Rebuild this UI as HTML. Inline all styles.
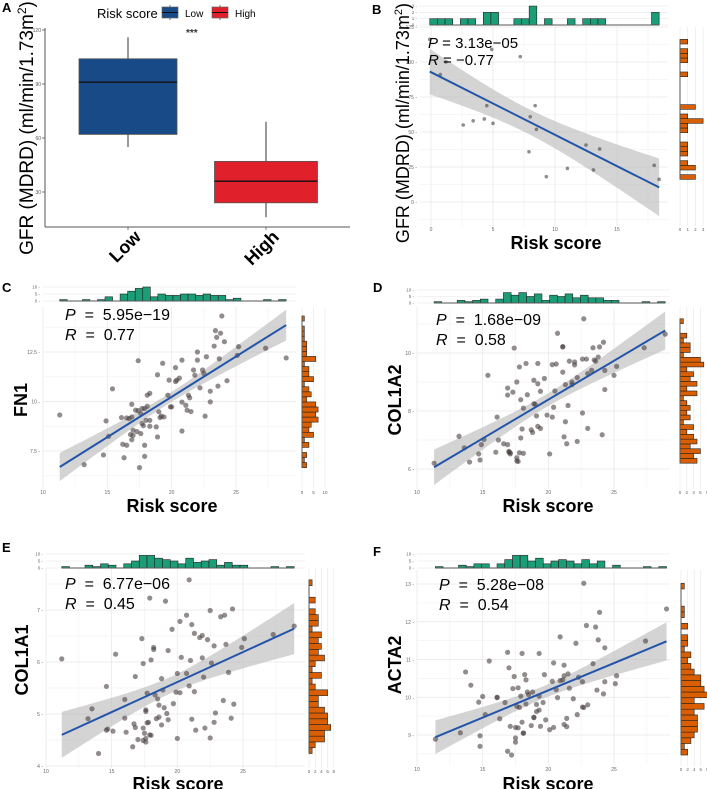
<!DOCTYPE html>
<html><head><meta charset="utf-8">
<style>
html,body{margin:0;padding:0;background:#fff;}
svg{display:block;font-family:"Liberation Sans",sans-serif;}
</style></head>
<body>
<svg id="fig" width="707" height="789" viewBox="0 0 707 789" xmlns="http://www.w3.org/2000/svg"></svg>
<script>
// ---------- Panel A data ----------
const boxGroups = ["Low","High"];
const boxMin = [55,16];
const boxQ1 = [62,24];
const boxMed = [91,36];
const boxQ3 = [104,47];
const boxMax = [116,69];
const boxTicks = [30,60,90,120];

// ---------- Panel B data ----------
const bX = [-0.1,0.75,1.2,2.6,3.4,4.3,4.5,4.9,5.0,7.2,7.9,8.0,8.4,8.5,9.3,11.0,12.5,13.1,13.6,18.0,18.4];
const bY = [116.2,91.0,100,55,58,59.3,68.8,109,56.2,103.8,35.9,60.9,68.8,51.9,18.1,24,40.7,22.9,37.9,26.2,16.2];
const bXTicks = [0,5,10,15];
const bYTicks = [0,25,50,75,100,125];

// ---------- Panel C (FN1) ----------
const cX = [11.3,13.2,14.7,14.9,15.1,15.4,16.1,16.2,16.3,16.5,16.7,16.8,16.9,16.9,17.0,17.0,17.2,17.3,17.4,17.4,17.5,17.6,17.7,17.7,17.8,17.9,17.9,17.9,18.0,18.1,18.3,18.3,18.8,18.9,19.0,19.1,19.2,19.3,19.4,19.7,19.9,20.0,20.3,20.3,20.4,20.6,20.8,20.8,20.8,21.1,21.2,21.3,21.4,21.5,21.8,22.0,22.0,22.2,22.4,22.5,22.7,23.0,23.0,22.6,23.4,23.5,23.3,23.7,23.8,23.9,24.1,24.3,23.6,25.2,25.1,27.3,28.9,21.7,19.8,18.9,18.3,17.6,18.1,16.9,16.5];
const cY = [9.32,6.81,7.30,9.02,8.24,10.64,9.19,7.84,7.16,9.17,9.14,8.33,9.86,8.07,8.29,8.55,9.56,8.48,9.54,12.06,6.66,9.39,8.89,9.65,8.78,7.23,7.79,9.65,9.05,9.76,8.75,10.41,8.72,11.35,9.48,9.19,9.26,11.93,9.22,10.32,9.73,9.73,11.01,11.71,11.08,11.18,8.51,12.09,9.97,9.81,9.56,10.32,10.19,9.49,11.33,12.09,12.5,10.69,11.59,11.42,12.26,10.52,9.98,9.26,13.58,13.24,12.80,12.16,13.45,14.32,13.02,11.05,10.78,12.77,12.33,12.69,12.20,11.59,11.08,8.21,9.05,8.38,10.32,9.22,7.79];

// ---------- Panel D (COL1A2) ----------
const dX = [11.3,13.2,13.6,14.0,14.7,14.8,14.9,15.1,15.4,16.0,16.1,16.2,16.9,17.0,17.0,16.9,16.9,17.1,17.1,17.3,17.4,17.6,17.6,17.6,17.7,17.8,17.8,17.9,18.0,18.1,18.1,17.9,18.3,18.4,18.7,18.8,18.9,19.0,19.1,19.2,19.2,19.2,19.4,19.4,19.7,19.9,20.1,20.3,20.3,20.6,20.5,20.7,21.1,21.1,21.1,21.2,21.3,21.3,21.4,21.5,21.6,21.8,21.8,22.0,22.0,22.2,22.2,22.6,22.6,22.7,22.9,23.0,23.0,23.3,23.4,23.5,23.6,23.8,23.9,24.1,24.2,24.3,24.3,25.0,25.2,27.3,28.9,18.9,20.4,16.6];
const dY = [6.20,7.13,6.73,6.24,6.52,6.31,6.84,7.02,9.23,6.58,7.79,7.00,6.84,6.58,6.61,8.79,8.55,6.52,6.56,8.65,10.17,6.39,6.28,9.00,6.26,9.52,6.56,8.39,7.38,8.10,6.54,7.07,9.64,8.56,7.35,7.26,8.25,8.23,7.83,8.94,9.64,7.47,7.40,8.68,9.12,7.86,6.52,7.79,9.60,9.62,8.69,10.68,10.22,10.21,9.34,7.11,7.63,8.91,6.87,8.19,9.72,8.91,9.00,9.69,9.59,6.95,9.15,7.93,9.79,11.18,9.79,7.40,9.29,9.40,10.18,9.76,9.72,9.86,10.21,7.18,10.37,9.40,8.74,9.23,9.54,10.18,10.65,9.06,8.13,6.87];

// ---------- Panel E (COL1A1) ----------
const eX = [11.2,13.2,13.5,14.0,14.6,14.6,14.7,15.1,15.3,16.0,16.0,16.1,16.6,16.7,16.8,16.8,17.0,17.3,17.4,17.4,17.4,17.5,17.6,17.6,17.6,17.6,17.7,17.7,17.8,17.9,17.9,18.0,18.0,18.2,18.2,18.3,18.4,18.5,18.6,18.6,18.8,18.8,18.9,19.0,19.1,19.2,19.3,19.3,19.6,19.7,19.9,20.0,20.0,20.2,20.2,20.3,20.7,20.7,20.9,20.9,21.0,21.1,21.1,21.3,21.3,21.4,21.7,21.9,21.9,22.0,22.1,22.3,22.5,22.5,22.6,22.8,22.8,22.9,23.3,23.5,23.6,23.7,23.9,24.1,24.2,24.3,24.9,25.1,27.3,28.9];
const eY = [6.06,4.91,5.10,4.24,5.53,4.69,4.71,4.67,6.15,4.92,5.28,4.65,4.37,4.81,4.74,5.72,4.51,6.45,5.97,4.73,4.49,4.63,4.46,5.05,5.08,4.53,4.83,5.40,4.84,4.60,7.23,4.59,6.04,6.28,6.24,5.37,4.91,5.29,5.17,4.94,4.79,5.68,5.46,5.12,7.17,5.01,6.22,4.89,6.63,5.20,5.42,4.53,5.78,5.41,6.78,6.09,5.78,6.90,5.54,7.58,6.03,6.72,4.90,6.55,5.43,4.69,6.47,6.08,6.51,5.71,4.73,6.43,6.99,4.54,5.98,4.84,6.31,5.02,6.87,5.26,6.90,6.34,5.80,4.92,7.02,5.19,6.28,6.45,6.53,6.69];

// ---------- Panel F (ACTA2) ----------
const fX = [11.4,13.3,13.7,14.1,14.8,14.8,14.7,15.0,15.2,15.5,16.1,16.1,16.3,16.7,16.9,16.9,17.0,17.1,17.2,17.3,17.4,17.5,17.5,17.5,17.6,17.7,17.7,17.8,17.9,18.0,18.0,18.1,18.1,18.2,18.3,18.3,18.4,18.5,18.7,18.8,18.9,18.9,19.1,19.1,19.3,19.3,19.3,19.4,19.6,19.7,19.8,20.1,20.3,20.4,20.6,20.7,20.9,20.9,21.1,21.2,21.2,21.2,21.4,21.4,21.5,21.6,21.9,22.1,22.2,22.3,22.6,22.6,22.7,22.9,23.0,23.4,23.6,23.7,23.8,23.9,24.2,24.3,24.3,25.1,25.2,27.4,29.0,22.7,20.4];
const fY = [8.89,9.06,10.67,10.32,8.98,8.70,9.87,10.02,9.54,10.96,9.99,10.00,9.43,9.86,11.19,8.57,10.78,9.23,8.47,10.23,10.55,9.20,8.92,8.81,9.76,9.19,10.25,9.73,10.03,11.16,9.34,9.05,9.05,10.60,9.82,10.46,10.14,10.07,9.25,10.14,9.47,9.46,9.62,9.81,11.16,9.66,10.03,9.23,9.86,10.60,9.40,9.14,10.42,10.91,10.20,9.99,11.60,10.44,10.46,10.85,10.57,9.28,9.22,9.44,10.62,10.24,9.96,11.43,9.54,10.53,9.74,10.41,9.73,11.90,9.80,10.89,11.86,10.19,11.52,12.25,10.09,11.31,10.41,10.36,10.57,11.49,12.34,13.02,9.20];

const riskXTicks = [10,15,20,25];
const cYTicks = [7.5,10,12.5];
const dYTicks = [6,8,10];
const eYTicks = [4,5,6,7];
const fYTicks = [9,10,11,12,13];

const NS = "http://www.w3.org/2000/svg";
const svg = document.getElementById('fig');
function el(tag, attrs, parent, text){
  const e = document.createElementNS(NS, tag);
  for (const k in attrs) e.setAttribute(k, attrs[k]);
  if (text !== undefined) e.textContent = text;
  (parent || svg).appendChild(e);
  return e;
}
function lin(d0,d1,r0,r1){ return v => r0 + (v-d0)*(r1-r0)/(d1-d0); }

// ---------- Panel letters ----------
const letters = [["A",2,12],["B",372,14],["C",2,292],["D",373,292],["E",2,552],["F",373,556]];
letters.forEach(l=>{
  const t = el('text',{x:l[1],y:l[2],'font-size':13,'font-weight':'bold'},svg,l[0]);
  
  
});

// ---------- Panel A ----------
(function(){
  const g = el('g',{});
  
  
  const y = lin(30,120,192,30);
  const xC = [128,266], hw = [49,51.5];
  el('line',{x1:45,y1:28,x2:45,y2:227,stroke:'#555','stroke-width':1},g);
  el('line',{x1:45,y1:227,x2:350,y2:227,stroke:'#555','stroke-width':1},g);
  boxTicks.forEach(t=>{
    el('line',{x1:42,y1:y(t),x2:45,y2:y(t),stroke:'#555','stroke-width':0.8},g);
    el('text',{x:41,y:y(t)+2,'font-size':5,'text-anchor':'end',fill:'#555'},g,String(t));
  });
  const fills = ['#174a87','#e0202a'];
  boxGroups.forEach((nm,i)=>{
    const bg = el('g',{},g);
    
    
    el('line',{x1:xC[i],y1:y(boxMax[i]),x2:xC[i],y2:y(boxMin[i]),stroke:'#333','stroke-width':1},bg);
    el('rect',{x:xC[i]-hw[i],y:y(boxQ3[i]),width:2*hw[i],height:y(boxQ1[i])-y(boxQ3[i]),fill:fills[i],stroke:'#555','stroke-width':0.8},bg);
    el('line',{x1:xC[i]-hw[i],y1:y(boxMed[i]),x2:xC[i]+hw[i],y2:y(boxMed[i]),stroke:'#111','stroke-width':1.3},bg);
    el('line',{x1:xC[i],y1:227,x2:xC[i],y2:230,stroke:'#555','stroke-width':0.8},bg);
    const lab = el('text',{x:0,y:0,'font-size':18,'font-weight':'bold','text-anchor':'end',transform:`translate(${xC[i]+14},${238}) rotate(-45)`},g,nm);
    
    
  });
  const yt = el('text',{x:0,y:0,'font-size':19,'text-anchor':'middle',transform:'translate(33,128) rotate(-90)'},g);
  yt.innerHTML = 'GFR (MDRD) (ml/min/1.73m<tspan dy="-7" font-size="12">2</tspan><tspan dy="7">)</tspan>';
  
  
  el('text',{x:186,y:36,'font-size':10,'font-weight':'bold',fill:'#333'},g,'***');
  const lg = el('g',{},g);
  
  
  el('text',{x:97,y:18,'font-size':13},lg,'Risk score');
  [['Low',162,'#174a87',185],['High',212,'#e0202a',235]].forEach(k=>{
    const kg = el('g',{},lg);
    
    
    el('line',{x1:k[1]+8,y1:5,x2:k[1]+8,y2:20,stroke:'#333','stroke-width':0.7},kg);
    el('rect',{x:k[1],y:7,width:16,height:11,fill:k[2],stroke:'#666','stroke-width':0.7},kg);
    el('line',{x1:k[1],y1:12.5,x2:k[1]+16,y2:12.5,stroke:'#111','stroke-width':1},kg);
    el('text',{x:k[3],y:17,'font-size':10},kg,k[0]);
  });
})();

// ---------- scatter + marginal panel builder ----------
function regress(xs,ys){
  const n=xs.length; let mx=0,my=0; for(let i=0;i<n;i++){mx+=xs[i];my+=ys[i];} mx/=n; my/=n;
  let sxx=0,sxy=0; for(let i=0;i<n;i++){sxx+=(xs[i]-mx)**2; sxy+=(xs[i]-mx)*(ys[i]-my);}
  const b=sxy/sxx, a=my-b*mx; let sse=0; for(let i=0;i<n;i++) sse+=(ys[i]-a-b*xs[i])**2;
  const s=Math.sqrt(sse/(n-2)); return {a,b,s,mx,sxx,n};
}
function hist(vals,nb){
  const mn=Math.min(...vals), mx=Math.max(...vals), w=(mx-mn)/nb;
  const c=new Array(nb).fill(0);
  vals.forEach(v=>{let k=Math.floor((v-mn)/w); if(k>=nb)k=nb-1; c[k]++;});
  return {mn,w,c};
}
function panel(cfg, xs, ys){
  const n=Math.min(xs.length,ys.length); xs=xs.slice(0,n); ys=ys.slice(0,n);
  const g = el('g',{});
  
  
  const X=cfg.x, Y=cfg.y, P=cfg.plot;
  const grid = el('g',{},g);
  
  
  const xs_t=cfg.xt, ys_t=cfg.yt;
  const dx=xs_t[1]-xs_t[0], dy=ys_t[1]-ys_t[0];
  for(let v=xs_t[0]-dx; v<=xs_t[xs_t.length-1]+dx; v+=dx/2){
    const px=X(v); if(px<P[0]||px>P[2]) continue;
    el('line',{x1:px,y1:P[1],x2:px,y2:P[3],stroke:(Math.abs((v-xs_t[0])/dx-Math.round((v-xs_t[0])/dx))<1e-6)?'#e6e6e6':'#f3f3f3','stroke-width':0.7},grid);
  }
  for(let v=ys_t[0]-dy; v<=ys_t[ys_t.length-1]+dy; v+=dy/2){
    const py=Y(v); if(py<P[1]||py>P[3]) continue;
    el('line',{x1:P[0],y1:py,x2:P[2],y2:py,stroke:(Math.abs((v-ys_t[0])/dy-Math.round((v-ys_t[0])/dy))<1e-6)?'#e6e6e6':'#f3f3f3','stroke-width':0.7},grid);
  }
  xs_t.forEach(t=>{ el('text',{x:X(t),y:P[3]+5,'font-size':5,'text-anchor':'middle',fill:'#666'},g,String(t)); });
  ys_t.forEach(t=>{ el('text',{x:P[0]-3,y:Y(t)+2,'font-size':5,'text-anchor':'end',fill:'#666'},g,String(t)+' -'); });
  const r=regress(xs,ys), t=1.99;
  const x0=Math.min(...xs), x1=Math.max(...xs);
  let up=[],lo=[];
  for(let i=0;i<=40;i++){
    const xv=x0+(x1-x0)*i/40, f=r.a+r.b*xv, se=r.s*Math.sqrt(1/r.n+(xv-r.mx)**2/r.sxx);
    up.push(X(xv)+','+Y(f+t*se)); lo.unshift(X(xv)+','+Y(f-t*se));
  }
  const band = el('polygon',{points:up.concat(lo).join(' '),fill:'#bdbdbd','fill-opacity':0.65},g);
  
  
  const pg = el('g',{},g);
  
  
  for(let i=0;i<n;i++){
    const c = el('circle',{cx:X(xs[i]),cy:Y(ys[i]),r:cfg.pr,fill:'#4a4040','fill-opacity':0.6},pg);
    
    
  }
  const line = el('line',{x1:X(x0),y1:Y(r.a+r.b*x0),x2:X(x1),y2:Y(r.a+r.b*x1),stroke:'#2255aa','stroke-width':2},g);
  
  
  const th = el('g',{},g);
  
  
  const hx=hist(xs,30);
  cfg.topTicks.forEach(tk=>{
    const py=cfg.topBase-tk*cfg.topK;
    el('line',{x1:P[0],y1:py,x2:P[2],y2:py,stroke:'#e6e6e6','stroke-width':0.6},th);
    el('text',{x:P[0]-3,y:py+1.5,'font-size':4.5,'text-anchor':'end',fill:'#666'},th,tk+' -');
  });
  hx.c.forEach((c,k)=>{
    const xa=X(hx.mn+k*hx.w), xb=X(hx.mn+(k+1)*hx.w);
    const h=c*cfg.topK;
    const b = el('rect',{x:xa,y:cfg.topBase-h,width:xb-xa,height:Math.max(h,0.01),fill:'#1b9e77',stroke:'#222','stroke-width':0.6},th);
    
    
  });
  el('line',{x1:X(hx.mn),y1:cfg.topBase,x2:X(hx.mn+30*hx.w),y2:cfg.topBase,stroke:'#555','stroke-width':1},th);
  const rh = el('g',{},g);
  
  
  const hy=hist(ys,30);
  cfg.rightTicks.forEach(tk=>{
    const px=cfg.rightBase+tk*cfg.rightK;
    el('line',{x1:px,y1:P[1],x2:px,y2:P[3],stroke:'#e6e6e6','stroke-width':0.6},rh);
    el('text',{x:px,y:P[3]+5,'font-size':4.5,'text-anchor':'middle',fill:'#666'},rh,String(tk));
  });
  hy.c.forEach((c,k)=>{
    const ya=Y(hy.mn+(k+1)*hy.w), yb=Y(hy.mn+k*hy.w);
    const w=c*cfg.rightK;
    const b = el('rect',{x:cfg.rightBase,y:ya,width:Math.max(w,0.01),height:yb-ya,fill:'#d95f02',stroke:'#222','stroke-width':0.6},rh);
    
    
  });
  el('line',{x1:cfg.rightBase,y1:Y(hy.mn),x2:cfg.rightBase,y2:Y(hy.mn+30*hy.w),stroke:'#555','stroke-width':1},rh);
  const st = el('g',{},g);
  
  
  const s1 = el('text',{x:cfg.txt[0],y:cfg.txt[1],'font-size':cfg.tfs},st);
  s1.innerHTML = '<tspan font-style="italic">P</tspan>'+cfg.pTxt;
  const s2 = el('text',{x:cfg.txt[0],y:cfg.txt[1]+cfg.tgap,'font-size':cfg.tfs},st);
  s2.innerHTML = '<tspan font-style="italic">R</tspan>'+cfg.rTxt;
  const xt = el('text',{x:cfg.xtl[0],y:cfg.xtl[1],'font-size':18,'font-weight':'bold','text-anchor':'middle'},g,'Risk score');
  
  
  if(cfg.ytitle){
    const yt = el('text',{x:0,y:0,'font-size':cfg.ytfs||18,'font-weight':cfg.ytw||'bold','text-anchor':'middle',transform:`translate(${cfg.ytl[0]},${cfg.ytl[1]}) rotate(-90)`},g);
    yt.innerHTML = cfg.ytitle;
    
    
  }
}

const EQ = '\u00a0\u00a0=\u00a0\u00a0';

panel({name:'panel-b-scatter',x:lin(0,15,431,617),y:lin(0,100,202,62),plot:[420,27,668,226],
  xt:bXTicks,yt:bYTicks,pr:1.8,topBase:25,topK:6.3,topTicks:[0,1,2,3],rightBase:680,rightK:7.7,rightTicks:[0,1,2,3],
  txt:[428,48],tgap:17,tfs:15,pTxt:' = 3.13e−05',rTxt:' = −0.77',xtl:[556,249],
  ytitle:'GFR (MDRD) (ml/min/1.73m<tspan dy="-7" font-size="11">2</tspan><tspan dy="7">)</tspan>',ytl:[409,123],ytfs:18,ytw:'normal'}, bX, bY);

panel({name:'panel-c-fn1',x:lin(10,25,43,236),y:lin(7.5,12.5,451,352),plot:[43,307,296,489],
  xt:riskXTicks,yt:cYTicks,pr:2.6,topBase:301,topK:1.4,topTicks:[0,5,10],rightBase:302,rightK:2.3,rightTicks:[0,5,10],
  txt:[65,320],tgap:20,tfs:16,pTxt:EQ+'5.95e−19',rTxt:EQ+'0.77',xtl:[172,512],ytitle:'FN1',ytl:[27,400]}, cX, cY);

panel({name:'panel-d-col1a2',x:lin(10,25,417,614),y:lin(6,10,469,353),plot:[417,307,670,489],
  xt:riskXTicks,yt:dYTicks,pr:2.6,topBase:303,topK:1.3,topTicks:[0,5,10],rightBase:680,rightK:3.4,rightTicks:[0,2,4,6,8],
  txt:[436,325],tgap:20,tfs:16,pTxt:EQ+'1.68e−09',rTxt:EQ+'0.58',xtl:[548,512],ytitle:'COL1A2',ytl:[401,400]}, dX, dY);

panel({name:'panel-e-col1a1',x:lin(10,25,46,243),y:lin(4,7,766,610),plot:[46,568,305,768],
  xt:riskXTicks,yt:eYTicks,pr:2.6,topBase:568,topK:1.4,topTicks:[0,5,10],rightBase:309,rightK:3.1,rightTicks:[0,2,4,6,8],
  txt:[65,589],tgap:20,tfs:16,pTxt:EQ+'6.77e−06',rTxt:EQ+'0.45',xtl:[178,790],ytitle:'COL1A1',ytl:[28,660]}, eX, eY);

panel({name:'panel-f-acta2',x:lin(10,25,417,614),y:lin(9,13,735,584),plot:[417,570,670,766],
  xt:riskXTicks,yt:fYTicks,pr:2.6,topBase:568,topK:1.4,topTicks:[0,5,10],rightBase:681,rightK:3.3,rightTicks:[0,2,4,6,8],
  txt:[439,590],tgap:20,tfs:16,pTxt:EQ+'5.28e−08',rTxt:EQ+'0.54',xtl:[548,790],ytitle:'ACTA2',ytl:[401,665]}, fX, fY);
</script>
</body></html>
